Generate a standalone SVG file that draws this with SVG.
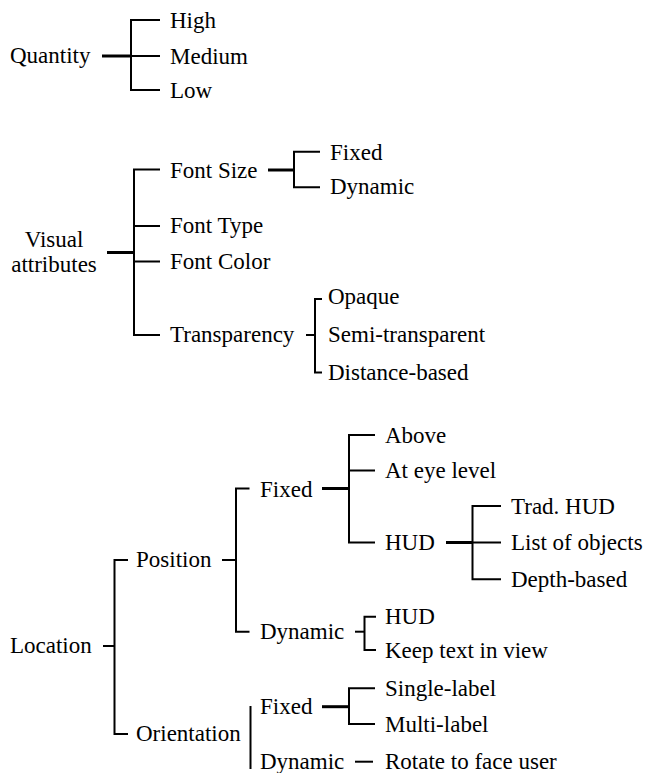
<svg xmlns="http://www.w3.org/2000/svg" width="646" height="773" viewBox="0 0 646 773">
<rect width="646" height="773" fill="#fff"/>
<g id="connectors">
<line stroke="#000" stroke-width="3" x1="102" y1="56" x2="131" y2="56"/>
<path fill="none" stroke="#000" stroke-width="2" d="M160,20 H131 V90 H160 M131,56 H160"/>
<line stroke="#000" stroke-width="3" x1="107" y1="252.5" x2="134" y2="252.5"/>
<path fill="none" stroke="#000" stroke-width="2" d="M160,169.5 H134 V335 H160 M134,226 H160 M134,261.5 H160"/>
<line stroke="#000" stroke-width="3" x1="268" y1="170" x2="294" y2="170"/>
<path fill="none" stroke="#000" stroke-width="2" d="M320,151.7 H294 V187.3 H320"/>
<line stroke="#000" stroke-width="2" x1="306" y1="335" x2="315" y2="335"/>
<path fill="none" stroke="#000" stroke-width="2" d="M322,299 H315 V372.5 H322"/>
<line stroke="#000" stroke-width="2" x1="103" y1="646" x2="114.5" y2="646"/>
<path fill="none" stroke="#000" stroke-width="2" d="M128,560 H114.5 V734 H128"/>
<line stroke="#000" stroke-width="2" x1="222" y1="560" x2="236" y2="560"/>
<path fill="none" stroke="#000" stroke-width="2" d="M249.5,488.5 H236 V631.7 H249.5"/>
<line stroke="#000" stroke-width="3" x1="322" y1="488.5" x2="349" y2="488.5"/>
<path fill="none" stroke="#000" stroke-width="2" d="M375,435 H349 V542.5 H375 M349,470.5 H375"/>
<line stroke="#000" stroke-width="3" x1="446" y1="542.5" x2="472.5" y2="542.5"/>
<path fill="none" stroke="#000" stroke-width="2" d="M501,506 H472.5 V579.3 H501 M472.5,542.5 H501"/>
<line stroke="#000" stroke-width="2" x1="355" y1="631.7" x2="364.5" y2="631.7"/>
<path fill="none" stroke="#000" stroke-width="2" d="M376,616.7 H364.5 V650 H376"/>
<line stroke="#000" stroke-width="2" x1="250.5" y1="706" x2="250.5" y2="769"/>
<line stroke="#000" stroke-width="3" x1="322" y1="706.7" x2="349" y2="706.7"/>
<path fill="none" stroke="#000" stroke-width="2" d="M375,688.3 H349 V724 H375"/>
<line stroke="#000" stroke-width="2" x1="355" y1="761.7" x2="373" y2="761.7"/>
</g>
<g id="quantity"><text style="font-family:'Liberation Serif';font-size:23px" x="10" y="63">Quantity</text></g>
<g id="q-high"><text style="font-family:'Liberation Serif';font-size:23px" x="170" y="27.5">High</text></g>
<g id="q-medium"><text style="font-family:'Liberation Serif';font-size:23px" x="170" y="64">Medium</text></g>
<g id="q-low"><text style="font-family:'Liberation Serif';font-size:23px" x="170" y="97.5">Low</text></g>
<g id="visual-attributes"><text style="font-family:'Liberation Serif';font-size:23px" text-anchor="middle" x="54" y="247">Visual</text><text style="font-family:'Liberation Serif';font-size:23px" text-anchor="middle" x="54" y="272">attributes</text></g>
<g id="font-size"><text style="font-family:'Liberation Serif';font-size:23px" x="170" y="178">Font Size</text></g>
<g id="fs-fixed"><text style="font-family:'Liberation Serif';font-size:23px" x="330" y="160">Fixed</text></g>
<g id="fs-dynamic"><text style="font-family:'Liberation Serif';font-size:23px" x="330" y="194">Dynamic</text></g>
<g id="font-type"><text style="font-family:'Liberation Serif';font-size:23px" x="170" y="232.5">Font Type</text></g>
<g id="font-color"><text style="font-family:'Liberation Serif';font-size:23px" x="170" y="268.5">Font Color</text></g>
<g id="transparency"><text style="font-family:'Liberation Serif';font-size:23px" x="170" y="342">Transparency</text></g>
<g id="tr-opaque"><text style="font-family:'Liberation Serif';font-size:23px" x="328" y="304">Opaque</text></g>
<g id="tr-semi"><text style="font-family:'Liberation Serif';font-size:23px" x="328" y="342">Semi-transparent</text></g>
<g id="tr-distance"><text style="font-family:'Liberation Serif';font-size:23px" x="328" y="380">Distance-based</text></g>
<g id="location"><text style="font-family:'Liberation Serif';font-size:23px" x="10" y="653">Location</text></g>
<g id="position"><text style="font-family:'Liberation Serif';font-size:23px" x="136" y="567">Position</text></g>
<g id="pos-fixed"><text style="font-family:'Liberation Serif';font-size:23px" x="260" y="496.5">Fixed</text></g>
<g id="pf-above"><text style="font-family:'Liberation Serif';font-size:23px" x="385" y="442.5">Above</text></g>
<g id="pf-eye"><text style="font-family:'Liberation Serif';font-size:23px" x="385" y="478">At eye level</text></g>
<g id="pf-hud"><text style="font-family:'Liberation Serif';font-size:23px" x="385" y="550">HUD</text></g>
<g id="hud-trad"><text style="font-family:'Liberation Serif';font-size:23px" x="511" y="513.5">Trad. HUD</text></g>
<g id="hud-list"><text style="font-family:'Liberation Serif';font-size:23px" x="511" y="550">List of objects</text></g>
<g id="hud-depth"><text style="font-family:'Liberation Serif';font-size:23px" x="511" y="586.5">Depth-based</text></g>
<g id="pos-dynamic"><text style="font-family:'Liberation Serif';font-size:23px" x="260" y="639">Dynamic</text></g>
<g id="pd-hud"><text style="font-family:'Liberation Serif';font-size:23px" x="385" y="624">HUD</text></g>
<g id="pd-keep"><text style="font-family:'Liberation Serif';font-size:23px" x="385" y="657.5">Keep text in view</text></g>
<g id="orientation"><text style="font-family:'Liberation Serif';font-size:23px" x="136" y="741">Orientation</text></g>
<g id="or-fixed"><text style="font-family:'Liberation Serif';font-size:23px" x="260" y="714">Fixed</text></g>
<g id="of-single"><text style="font-family:'Liberation Serif';font-size:23px" x="385" y="695.5">Single-label</text></g>
<g id="of-multi"><text style="font-family:'Liberation Serif';font-size:23px" x="385" y="731.5">Multi-label</text></g>
<g id="or-dynamic"><text style="font-family:'Liberation Serif';font-size:23px" x="260" y="768.5">Dynamic</text></g>
<g id="od-rotate"><text style="font-family:'Liberation Serif';font-size:23px" x="385" y="768.5">Rotate to face user</text></g>
</svg>
